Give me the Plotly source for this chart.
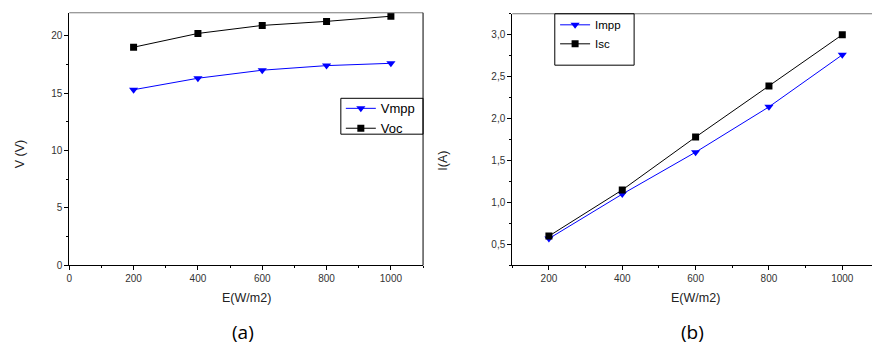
import plotly.graph_objects as go

# ---- data ----
E = [200, 400, 600, 800, 1000]
vmpp = [15.3, 16.3, 17.0, 17.4, 17.6]
voc = [19.0, 20.2, 20.9, 21.25, 21.7]
impp = [0.57, 1.10, 1.60, 2.14, 2.76]
isc = [0.60, 1.15, 1.78, 2.39, 3.00]

W, H = 872, 354
def px(x):
    return x / W
def py(y):
    return (H - y) / H

fig = go.Figure()

fig.add_trace(go.Scatter(x=E, y=vmpp, name="Vmpp", mode="lines+markers",
                         line=dict(color="#0000ff", width=1),
                         marker=dict(symbol="triangle-down", size=8, color="#0000ff"),
                         xaxis="x", yaxis="y", legend="legend"))
fig.add_trace(go.Scatter(x=E, y=voc, name="Voc", mode="lines+markers",
                         line=dict(color="#000000", width=1),
                         marker=dict(symbol="square", size=7, color="#000000"),
                         xaxis="x", yaxis="y", legend="legend"))
fig.add_trace(go.Scatter(x=E, y=impp, name="Impp", mode="lines+markers",
                         line=dict(color="#0000ff", width=1),
                         marker=dict(symbol="triangle-down", size=8, color="#0000ff"),
                         xaxis="x2", yaxis="y2", legend="legend2"))
fig.add_trace(go.Scatter(x=E, y=isc, name="Isc", mode="lines+markers",
                         line=dict(color="#000000", width=1),
                         marker=dict(symbol="square", size=7, color="#000000"),
                         xaxis="x2", yaxis="y2", legend="legend2"))

tickfont = dict(family="Liberation Sans", size=10, color="#333333")
axis_common = dict(showgrid=False, zeroline=False, showline=True, linecolor="#000000",
                   linewidth=1, ticks="outside", ticklen=4, tickcolor="#000000",
                   tickwidth=1, tickfont=tickfont)

fig.update_layout(
    width=W, height=H, margin=dict(l=0, r=0, t=0, b=0),
    plot_bgcolor="white", paper_bgcolor="white",
    separators=",.",
    showlegend=True,
    xaxis=dict(domain=[px(66.5), px(421.5)], range=[0, 1100], anchor="y",
               tickvals=[0, 200, 400, 600, 800, 1000],
               minor=dict(dtick=100, tick0=0, ticks="outside", ticklen=2, tickcolor="#000000"),
               **axis_common),
    yaxis=dict(domain=[py(270), py(13)], range=[0, 22], anchor="x",
               tickvals=[0, 5, 10, 15, 20],
               minor=dict(dtick=2.5, tick0=0, ticks="outside", ticklen=2, tickcolor="#000000"),
               **axis_common),
    xaxis2=dict(domain=[px(511), 1.0], range=[100, 1081], anchor="y2",
                tickvals=[200, 400, 600, 800, 1000],
                minor=dict(dtick=100, tick0=100, ticks="outside", ticklen=2, tickcolor="#000000"),
                **axis_common),
    yaxis2=dict(domain=[py(270), py(14)], range=[0.25, 3.25], anchor="x2",
                tickvals=[0.5, 1.0, 1.5, 2.0, 2.5, 3.0], tickformat=".1f",
                minor=dict(dtick=0.25, tick0=0.25, ticks="outside", ticklen=2, tickcolor="#000000"),
                **axis_common),
    legend=dict(x=px(339), y=py(95), xanchor="left", yanchor="top",
                bgcolor="rgba(0,0,0,0)", borderwidth=0,
                font=dict(family="Liberation Sans", size=13, color="#000000"),
                itemwidth=30, tracegroupgap=0),
    legend2=dict(x=px(554), y=py(10.5), xanchor="left", yanchor="top",
                 bgcolor="rgba(0,0,0,0)", borderwidth=0,
                 font=dict(family="Liberation Sans", size=11.5, color="#000000"),
                 itemwidth=30, tracegroupgap=0),
)

shapes = [
    dict(type="line", xref="x domain", yref="y domain", x0=0, x1=1, y0=1, y1=1,
         line=dict(color="#777777", width=1)),
    dict(type="line", xref="x domain", yref="y domain", x0=1, x1=1, y0=0, y1=1,
         line=dict(color="#000000", width=1)),
    dict(type="line", xref="x2 domain", yref="y2 domain", x0=0, x1=1, y0=1, y1=1,
         line=dict(color="#777777", width=1)),
    # legend boxes
    dict(type="rect", xref="paper", yref="paper", x0=px(339), x1=px(421.5),
         y0=py(136.5), y1=py(100), line=dict(color="#000000", width=1), fillcolor="rgba(0,0,0,0)"),
    dict(type="rect", xref="paper", yref="paper", x0=px(553.7), x1=px(633.3),
         y0=py(66.3), y1=py(14), line=dict(color="#000000", width=1), fillcolor="rgba(0,0,0,0)"),
]
fig.update_layout(shapes=shapes)

titlefont = dict(family="Liberation Sans", size=12.5, color="#222222")
labfont = dict(family="Open Sans", size=19, color="#000000")
def ann(text, x, y, font, angle=0):
    return dict(text=text, x=px(x), y=py(y), xref="paper", yref="paper",
                xanchor="center", yanchor="middle", showarrow=False,
                textangle=angle, font=font)
annotations = [
    ann("E(W/m2)", 244, 303, titlefont),
    ann("E(W/m2)", 695, 303, titlefont),
    ann("V (V)", 17, 157, titlefont, -90),
    ann("I(A)", 442, 163, titlefont, -90),
    ann("(a)", 241, 338, labfont),
    ann("(b)", 692, 338, labfont),
]
fig.update_layout(annotations=annotations)

fig.write_html("out.html", config={"displayModeBar": False},
               post_script="document.body.style.margin='0';document.body.style.overflow='hidden';")
